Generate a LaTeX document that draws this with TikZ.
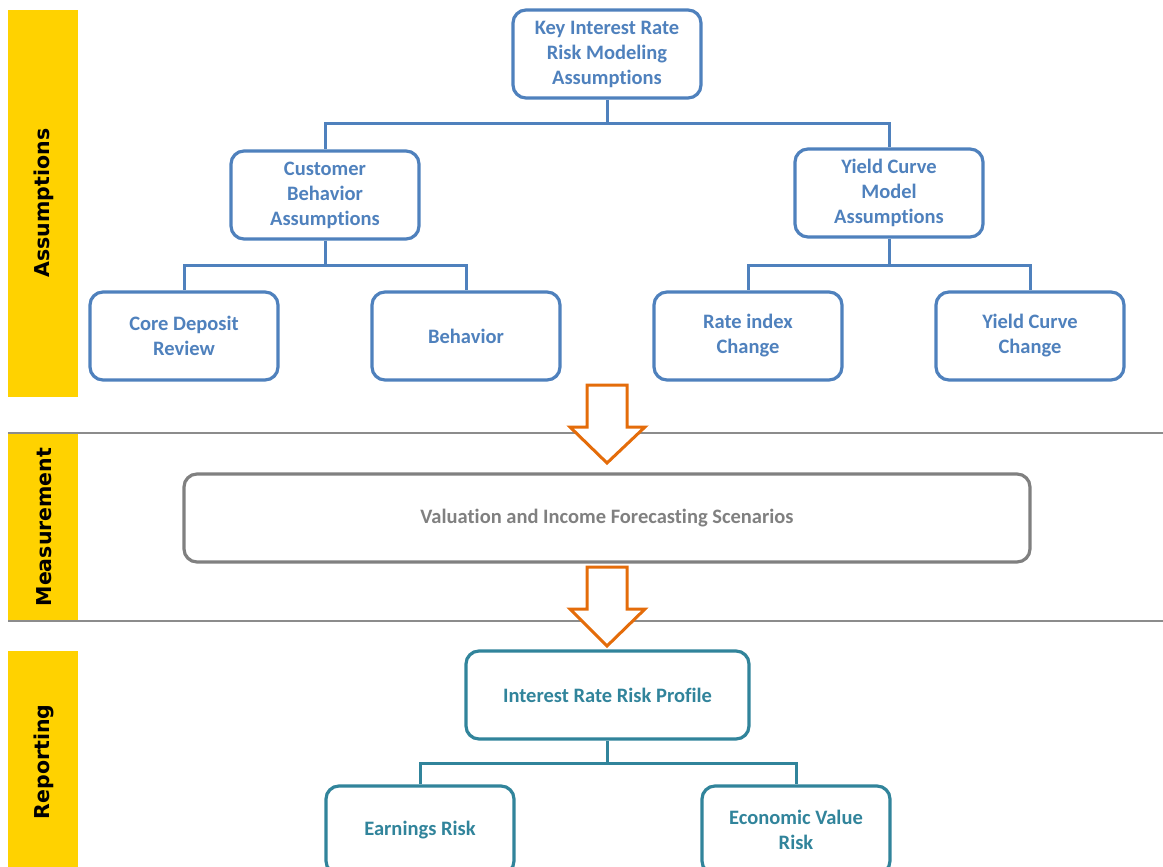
\documentclass[tikz,border=0pt]{standalone}
\usepackage{fontspec}
\setmainfont{Carlito}[Ligatures=NoCommon]
\newfontfamily\sidefont{DejaVu Sans}
\usetikzlibrary{calc}
\definecolor{boxblue}{HTML}{4F81BD}
\definecolor{boxteal}{HTML}{31849B}
\definecolor{boxgray}{HTML}{808080}
\definecolor{bandyellow}{HTML}{FFD200}
\definecolor{arroworange}{HTML}{E46C0A}
\definecolor{sepgray}{HTML}{8C8C8C}
\tikzset{
  box/.style={draw, line width=3.2pt, rounded corners=13pt, fill=white,
    minimum width=188pt, minimum height=88pt, align=center, inner sep=2pt,
    font=\fontsize{20.5}{25}\selectfont\bfseries},
  bluebox/.style={box, draw=boxblue, text=boxblue},
  tealbox/.style={box, draw=boxteal, text=boxteal},
  graybox/.style={box, draw=boxgray, text=boxgray},
  conn/.style={line width=3pt},
  band/.style={fill=bandyellow, draw=none},
  bandlabel/.style={rotate=90, font=\fontsize{20.5}{24}\selectfont\sidefont\bfseries, text=black},
  sepline/.style={draw=sepgray, line width=2pt},
  bigarrow/.style={draw=arroworange, line width=3pt, fill=white, line join=miter},
}
\begin{document}
\begin{tikzpicture}[x=1pt,y=-1pt]
\useasboundingbox (0,0) rectangle (1163,867);
% bands
\fill[band] (8,10) rectangle (78,397);
\fill[band] (8,434) rectangle (78,621);
\fill[band] (8,651) rectangle (78,867);
\node[bandlabel] (lassump) at (44,203) {Assumptions};
\node[bandlabel] (lmeas) at (44,527) {Measurement};
\node[bandlabel] (lrep) at (44,762) {Reporting};
% separator lines
\draw[sepline] (8,433) -- (1163,433);
\draw[sepline] (8,621) -- (1163,621);
% assumptions tree
\node[bluebox] (key) at (607,54) {Key Interest Rate\\Risk Modeling\\Assumptions};
\node[bluebox] (cba) at (325,195) {Customer\\Behavior\\Assumptions};
\node[bluebox] (ycm) at (889,193) {Yield Curve\\Model\\Assumptions};
\node[bluebox] (cdr) at (184,336) {Core Deposit\\Review};
\node[bluebox] (beh) at (466,336) {Behavior};
\node[bluebox] (ric) at (748,336) {Rate index\\Change};
\node[bluebox] (ycc) at (1030,336) {Yield Curve\\Change};
\coordinate (j1) at (607,123);
\coordinate (j2) at (325,265);
\coordinate (j3) at (889,265);
\draw[conn, boxblue] (key.south) -- (j1) -| (cba.north);
\draw[conn, boxblue] (j1) -| (ycm.north);
\draw[conn, boxblue] (cba.south) -- (j2) -| (cdr.north);
\draw[conn, boxblue] (j2) -| (beh.north);
\draw[conn, boxblue] (ycm.south) -- (j3) -| (ric.north);
\draw[conn, boxblue] (j3) -| (ycc.north);
% measurement
\node[graybox, minimum width=846pt, minimum height=88pt] (val) at (607,518) {Valuation and Income Forecasting Scenarios};
% arrows
\draw[bigarrow] (587,385) -- (627,385) -- (627,427) -- (645,427) -- (607,463) -- (570,427) -- (587,427) -- cycle;
\draw[bigarrow] (587,567) -- (627,567) -- (627,609) -- (645,609) -- (607,646) -- (570,609) -- (587,609) -- cycle;
% reporting tree
\node[tealbox, minimum width=283pt] (irr) at (607.5,695) {Interest Rate Risk Profile};
\node[tealbox] (ear) at (420,830) {Earnings Risk};
\node[tealbox] (eco) at (796,830) {Economic Value\\Risk};
\coordinate (j4) at (607.5,763);
\draw[conn, boxteal] (irr.south) -- (j4) -| (ear.north);
\draw[conn, boxteal] (j4) -| (eco.north);
\end{tikzpicture}
\end{document}
